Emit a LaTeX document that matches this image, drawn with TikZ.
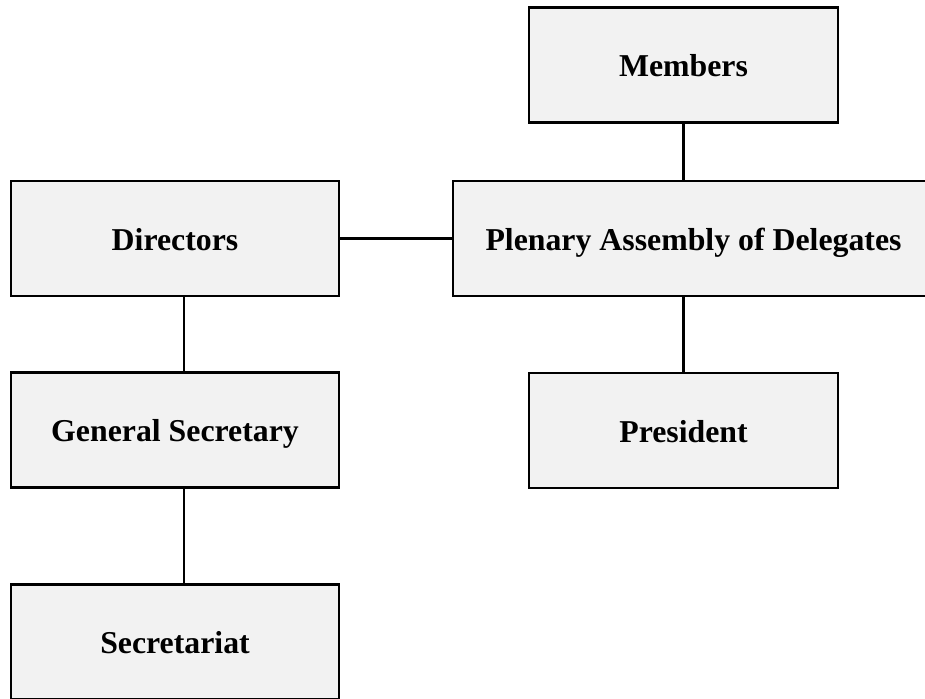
\documentclass[tikz,border=0pt]{standalone}
\usepackage{fontspec}
\setmainfont{Liberation Serif}
\usetikzlibrary{positioning}

\begin{document}
\begin{tikzpicture}[x=0.5pt,y=-0.5pt]
\tikzstyle{unit}=[rectangle, draw=black, line width=1.2pt, fill=black!5, minimum height=57.5pt, inner sep=0pt, text height=11.5pt, text depth=0pt, font=\fontsize{15.9}{19}\selectfont\bfseries]
\tikzstyle{connect}=[line width=1.1pt]
\useasboundingbox (0,0) rectangle (925,698);

	\node[unit, minimum width=154.5pt] (members) at (683.5,65) {Members};
	\node[unit, minimum width=240.5pt] (plenary) at (693.5,238.5) {Plenary Assembly of Delegates};
	\node[unit, minimum width=164pt] (directors) at (175,238.5) {Directors};
	\node[unit, minimum width=154.5pt] (president) at (683.5,430.5) {President};
	\node[unit, minimum width=164pt] (gensec) at (175,430) {General Secretary};
	\node[unit, minimum width=164pt] (secretariat) at (175,642) {Secretariat};

%	lines at x=184 on the left column
	\path
		(members) edge [connect] (members |- plenary.north)
		(directors) edge [connect] (plenary)
		(president) edge [connect] (president |- plenary.south)
		([xshift=4.5pt]directors.south) edge [connect] ([xshift=4.5pt]gensec.north)
		([xshift=4.5pt]gensec.south) edge [connect] ([xshift=4.5pt]secretariat.north);

\end{tikzpicture}
\end{document}
